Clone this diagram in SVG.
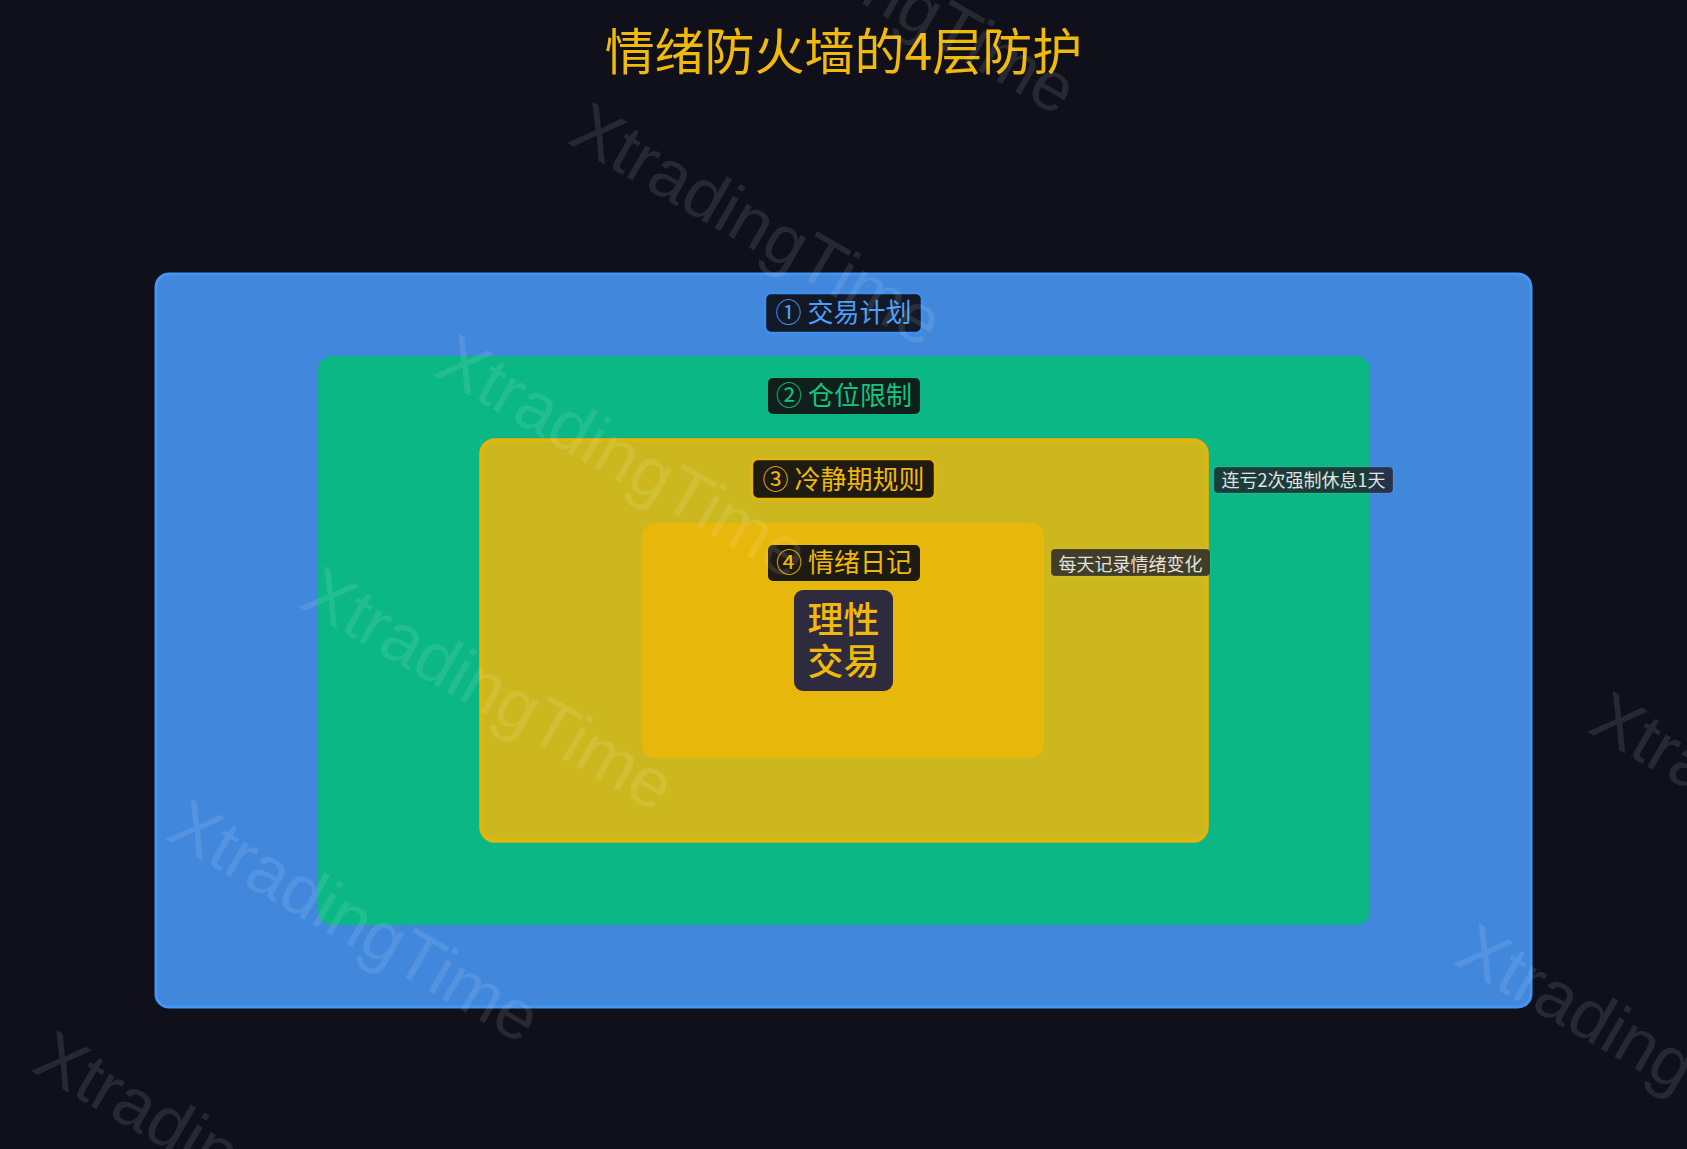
<svg xmlns="http://www.w3.org/2000/svg" width="1687" height="1149" viewBox="0 0 1687 1149">
  <style>
    .cjk { font-family: "Noto Sans CJK SC", "Noto Sans", sans-serif; text-anchor: middle; }
    .title { font-size: 50px; fill: #f0b90b; font-weight: 400; }
    .pill-text { font-size: 26px; font-weight: 400; }
    .note { font-size: 18px; fill: #e2e2e2; }
    .note-bg { fill: rgba(30,30,40,0.8); stroke: rgba(255,255,255,0.12); stroke-width: 1; }
    .wm { font-family: "Liberation Sans", Arial, sans-serif; font-size: 70px; fill: #ffffff; fill-opacity: 0.1; }
  </style>
  <rect width="1687" height="1149" fill="#0f101a"/>
  <text class="cjk title" x="843.5" y="70">情绪防火墙的4层防护</text>

  <g id="layer1">
    <rect x="156" y="274" width="1375" height="733" rx="13" fill="#4187dc" stroke="#4596f0" stroke-width="3"/>
  </g>
  <g id="layer2">
    <rect x="318" y="356" width="1052" height="569" rx="14" fill="#0bb784"/>
  </g>
  <g id="layer3">
    <rect x="481" y="440" width="726" height="401" rx="14" fill="#ccb81e" stroke="#e8b40a" stroke-width="3.5"/>
  </g>
  <g id="layer4">
    <rect x="642" y="523" width="402" height="235" rx="14" fill="#e8b70b"/>
  </g>

  <g id="label1">
    <rect x="765" y="293" width="157" height="40" rx="6" fill="#121826" stroke="#3d8ef0" stroke-width="2.5"/>
    <text class="cjk pill-text" x="843.5" y="322" fill="#4d9ef7">① 交易计划</text>
  </g>
  <g id="label2">
    <rect x="768" y="378" width="152" height="36" rx="5" fill="#0f1f1c"/>
    <text class="cjk pill-text" x="844" y="405" fill="#12c583">② 仓位限制</text>
  </g>
  <g id="label3">
    <rect x="752" y="459" width="183" height="40" rx="6" fill="#1e1b12" stroke="#e6b40c" stroke-width="2.5"/>
    <text class="cjk pill-text" x="843.5" y="489" fill="#f0b90b">③ 冷静期规则</text>
  </g>
  <g id="label4">
    <rect x="768" y="545" width="152" height="36" rx="5" fill="#1e1b12"/>
    <text class="cjk pill-text" x="844" y="572" fill="#f0b90b">④ 情绪日记</text>
  </g>

  <g id="core">
    <rect x="794" y="590" width="99" height="101" rx="9" fill="#2e2b3e"/>
    <text class="cjk" x="843.5" y="633" font-size="36" font-weight="500" fill="#f0b90b">理性</text>
    <text class="cjk" x="843.5" y="675" font-size="36" font-weight="500" fill="#f0b90b">交易</text>
  </g>

  <g id="note-cooldown">
    <rect class="note-bg" x="1214" y="467" width="179" height="26" rx="4"/>
    <text class="cjk note" x="1303.5" y="487">连亏2次强制休息1天</text>
  </g>
  <g id="note-diary">
    <rect class="note-bg" x="1051" y="549" width="159" height="27" rx="4"/>
    <text class="cjk note" x="1130.5" y="571">每天记录情绪变化</text>
  </g>

  <g id="connectors"/>

  <g id="watermarks" transform="rotate(30)">
    <text class="wm" x="561" y="-428">XtradingTime</text>
    <text class="wm" x="561" y="-160">XtradingTime</text>
    <text class="wm" x="561" y="108">XtradingTime</text>
    <text class="wm" x="561" y="376">XtradingTime</text>
    <text class="wm" x="561" y="644">XtradingTime</text>
    <text class="wm" x="561" y="912">XtradingTime</text>
    <text class="wm" x="1739" y="-160">XtradingTime</text>
    <text class="wm" x="1739" y="108">XtradingTime</text>
  </g>
</svg>
